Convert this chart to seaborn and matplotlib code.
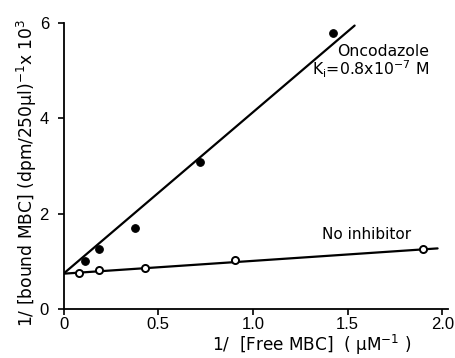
import numpy as np
import pandas as pd
import matplotlib
matplotlib.use("Agg")
import matplotlib.pyplot as plt
import seaborn as sns

# Data
onco_x = [0.114, 0.19, 0.376, 0.72, 1.425]
onco_y = [1.00, 1.26, 1.69, 3.08, 5.78]
noinh_x = [0.082, 0.19, 0.43, 0.905, 1.90]
noinh_y = [0.76, 0.81, 0.86, 1.02, 1.25]
# fitted line endpoints
onco_fit_x = [0.0, 1.537]
onco_fit_y = [0.74, 5.94]
noinh_fit_x = [0.0, 1.975]
noinh_fit_y = [0.74, 1.27]

x_ticks = [0, 0.5, 1.0, 1.5, 2.0]
x_tick_labels = ["0", "0.5", "1.0", "1.5", "2.0"]
y_ticks = [0, 2, 4, 6]
y_tick_labels = ["0", "2", "4", "6"]

sns.set_style("ticks")
plt.rcParams['font.family'] = ['DejaVu Sans']
plt.rcParams['mathtext.fontset'] = 'dejavusans'
plt.rcParams['text.color'] = 'black'
plt.rcParams['axes.labelcolor'] = 'black'

narrow = ['Liberation Sans Narrow', 'DejaVu Sans Condensed', 'Liberation Sans']

fig = plt.figure(figsize=(4.55, 3.58), dpi=100)
ax = fig.add_axes([63.5 / 455, 1 - 309 / 358, (448 - 63.5) / 455, (309 - 22.7) / 358])

df_of = pd.DataFrame({"x": onco_fit_x, "y": onco_fit_y})
df_nf = pd.DataFrame({"x": noinh_fit_x, "y": noinh_fit_y})
sns.lineplot(data=df_of, x="x", y="y", ax=ax, color="black", linewidth=1.6, zorder=2)
sns.lineplot(data=df_nf, x="x", y="y", ax=ax, color="black", linewidth=1.6, zorder=2)

df_o = pd.DataFrame({"x": onco_x, "y": onco_y})
df_n = pd.DataFrame({"x": noinh_x, "y": noinh_y})
sns.scatterplot(data=df_o, x="x", y="y", ax=ax, color="black", s=30,
                edgecolor="black", linewidth=0.8, zorder=3)
sns.scatterplot(data=df_n, x="x", y="y", ax=ax, color="white", s=26,
                edgecolor="black", linewidth=1.4, zorder=3)

ax.set_xlim(0, 2.03)
ax.set_ylim(0, 6)
ax.set_xticks(x_ticks)
ax.set_xticklabels(x_tick_labels, family=narrow)
ax.set_yticks(y_ticks)
ax.set_yticklabels(y_tick_labels, family=narrow)
ax.tick_params(axis="both", labelsize=12, length=4.5, width=1.2, direction="out",
               colors="black", labelcolor="black")
ax.tick_params(axis="x", pad=1)
ax.tick_params(axis="y", pad=6)
for s in ["left", "bottom"]:
    ax.spines[s].set_linewidth(1.3)
    ax.spines[s].set_color("black")
sns.despine(ax=ax)

ax.set_xlabel("")
ax.set_ylabel("1/ [bound MBC] (dpm/250μl)$^{-1}$x 10$^{3}$", fontsize=12.3, color="black")
ax.yaxis.set_label_coords((39 - 63.5) / 384.5, 0.475)
fig.text(311.5 / 455, 1 - 345 / 358, "1/  [Free MBC]  ( μM$^{-1}$ )",
         ha="center", va="center", fontsize=12.2, color="black")

ax.text(1.93, 5.39, "Oncodazole", ha="right", va="center", fontsize=11.3, color="black")
ax.text(1.93, 5.03, "K$_\\mathregular{i}$=0.8x10$^{-7}$ M", ha="right", va="center",
        fontsize=11.3, color="black")
ax.text(1.366, 1.57, "No inhibitor", ha="left", va="center", fontsize=11, color="black")

fig.savefig("out.png", dpi=100)
